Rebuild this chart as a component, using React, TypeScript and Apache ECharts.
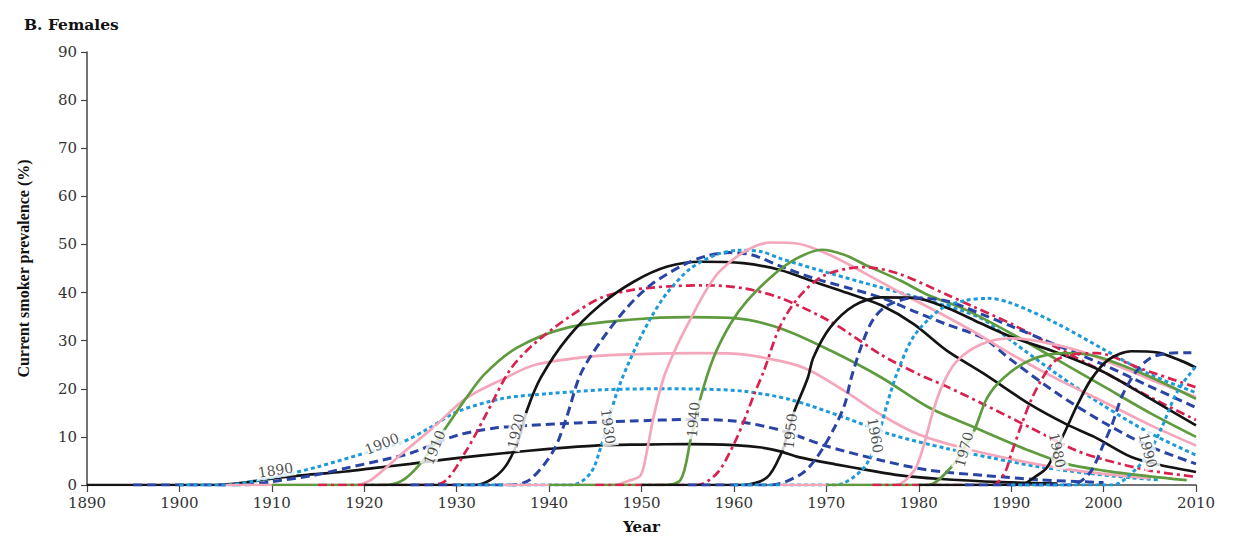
import React, { useEffect, useRef } from 'react';
import * as echarts from 'echarts';

type Pt = [number, number];

// Birth cohorts (every 5 years), points are [calendar year, prevalence %]
const c1890: Pt[] = [[1890,0],[1904,0],[1907,0.5],[1911,1.6],[1915,2.3],[1918,2.8],[1921,3.5],[1925,4.4],[1930,5.6],[1935,6.6],[1940,7.5],[1945,8.2],[1950,8.4],[1955,8.5],[1960,8.3],[1963,7.8],[1965,7],[1967,5.8],[1971,4.3],[1974.5,3.1],[1978,2],[1982,1.3],[1989,0.6],[1995,0.3]];
const c1895: Pt[] = [[1895,0],[1907,0],[1910,0.7],[1914.5,2],[1918,3.5],[1922,5.2],[1925,6.6],[1930,10.3],[1934,11.8],[1938,12.4],[1943,12.9],[1949,13.3],[1955,13.6],[1960,13.3],[1965,11.4],[1970,8.1],[1976,5.1],[1981,3.1],[1987,2],[1993,1.1],[2000,0.5]];
const c1900: Pt[] = [[1900,0],[1905,0],[1908,0.8],[1911,1.9],[1915,3.8],[1920,6.6],[1924,8.8],[1927,11.8],[1930,15.2],[1935,18],[1940,19],[1946,19.8],[1952,20],[1957,19.9],[1961,19.5],[1966,17.8],[1972,14],[1977,10.5],[1983,7.6],[1988,5.6],[1993,3.8],[1998,2.5],[2003,1.5],[2006,1.1]];
const c1905: Pt[] = [[1905,0],[1919,0],[1920.5,0.8],[1922,3],[1924,6.4],[1927.5,12],[1931,18],[1935,22],[1938.5,25],[1945,26.8],[1950,27.2],[1956,27.4],[1960,27.3],[1965,25.8],[1968,24],[1972,19.5],[1976,14.5],[1980,10.5],[1985,7.6],[1990,5.4],[1995,3.6],[2000,2.3],[2005,1.4]];
const c1910: Pt[] = [[1910,0],[1922,0],[1924,0.8],[1926,4.3],[1928.6,11.3],[1931,18],[1933,23],[1936.5,28.5],[1942,32.7],[1949,34.4],[1955,34.9],[1960,34.7],[1965,32.6],[1970.5,27.9],[1976,22.3],[1981,16.2],[1986,12],[1992,7.1],[1996,4.4],[2000,3],[2005,1.8],[2009,1]];
const c1915: Pt[] = [[1915,0],[1926.5,0],[1928.6,0.6],[1931,7],[1933,14],[1935.8,24],[1938.3,29.2],[1942,34.7],[1945.6,38.9],[1949.2,40.6],[1953,41.3],[1957,41.5],[1961,40.9],[1965,38.9],[1970.4,34],[1976,27],[1980,23],[1983,20.5],[1987,16.8],[1992,12],[1997,7.2],[2000,5.3],[2005,3],[2010,1.7]];
const c1920: Pt[] = [[1920,0],[1932,0],[1934,1.5],[1935.5,4.5],[1936.8,10],[1937.6,15.5],[1939.1,22.3],[1942,30.6],[1945.6,37.5],[1949.2,42.3],[1952.8,45.4],[1956.4,46.4],[1961,46.1],[1965,44.7],[1968.6,42.3],[1972.3,39.9],[1976,37.3],[1979.5,33.4],[1983,28],[1987,23.2],[1992,16.8],[1996,12.6],[1999,10],[2003,5.8],[2006,4.2],[2010,2.7]];
const c1925: Pt[] = [[1925,0],[1936,0],[1938,1.2],[1940.5,7.2],[1941.9,14.1],[1943.4,23],[1945.6,29.9],[1948.4,36.8],[1951,41.6],[1954.6,45.8],[1957,47.6],[1959.5,48.3],[1962,47.8],[1965,45.5],[1968.6,43],[1972.3,41],[1976,38.9],[1979.5,36.1],[1983,33.4],[1987,30.5],[1990,26],[1995,19],[2000,13],[2005,8],[2010,4.4]];
const c1930: Pt[] = [[1930,0],[1942.5,0],[1944.5,2.5],[1945.6,7.9],[1947.4,19.6],[1949.2,27.9],[1951,34.7],[1952.8,40],[1955.3,45],[1958,47.8],[1960.5,48.8],[1963,48.5],[1965,47.1],[1970.4,44],[1976,41],[1981.3,38.2],[1986.7,34.7],[1990,30],[1995,23],[2000,16.5],[2005,10.8],[2010,6.2]];
const c1935: Pt[] = [[1935,0],[1947,0],[1948.5,0.8],[1949.9,2],[1950.6,7.2],[1951.3,14.1],[1952.4,22.3],[1953.9,29.2],[1955.3,34.5],[1957,40.5],[1958.5,44.5],[1961.4,48.8],[1964,50.4],[1966.8,50.2],[1970.4,47.8],[1974,44.2],[1978,40],[1982,36],[1986,31.8],[1990,27.2],[1995,22],[2000,17.3],[2005,12.5],[2010,8.2]];
const c1940: Pt[] = [[1940,0],[1952,0],[1954.2,1],[1955.3,9.3],[1956.4,18.2],[1957.8,26.5],[1959.6,33.4],[1961.4,38.2],[1964.3,43.7],[1966.8,47.1],[1969.5,48.9],[1972,47.8],[1974.5,45.5],[1978,42.5],[1981,39.5],[1985,36.5],[1990,31.5],[1995,26],[2000,20.5],[2005,15],[2010,10]];
const c1945: Pt[] = [[1945,0],[1956,0],[1958.2,2.5],[1960,8.5],[1961.1,13.4],[1962.2,18.9],[1963.2,23.5],[1965,33],[1967,39],[1969.7,43.5],[1974,45.3],[1977.7,44],[1983,39.6],[1986,37],[1990,33.5],[1995,28.5],[2000,23.5],[2005,18.3],[2010,13.5]];
const c1950: Pt[] = [[1950,0],[1961,0],[1963.6,1.6],[1965.1,6.5],[1965.8,10.6],[1966.5,15.1],[1968,22.3],[1968.6,26.5],[1970.4,32.7],[1973,37.3],[1975.9,39],[1979.5,38.9],[1983.1,36.8],[1986.7,33.6],[1990,30.8],[1995,27.5],[2000,23.5],[2005,18],[2010,12.4]];
const c1955: Pt[] = [[1955,0],[1964,0],[1967.3,2.3],[1969,5.8],[1970.9,12],[1972,16.8],[1972.7,22.3],[1974,30],[1975.1,34.5],[1976.6,37.3],[1979.5,38.9],[1983.1,38.2],[1986.7,35.6],[1990,33],[1995,29],[2000,25],[2005,20.5],[2010,16.1]];
const c1960: Pt[] = [[1960,0],[1971,0],[1973.8,3],[1975.2,7.5],[1975.9,12],[1976.6,17],[1977.7,23.5],[1979.5,31],[1982.4,36.6],[1984.9,38.3],[1987.5,38.8],[1990,37.8],[1995,33.5],[2000,28.2],[2005,23],[2010,19.2]];
const c1965: Pt[] = [[1965,0],[1977.5,0],[1979.5,3],[1980.5,8],[1981.5,15],[1982.5,20.5],[1984,25.5],[1986.7,29.2],[1990,30.5],[1994,29.5],[1997.5,27.8],[2000,26],[2005,22],[2010,18.3]];
const c1970: Pt[] = [[1970,0],[1981,0],[1983.5,3.7],[1985,8],[1986,11.3],[1987.4,18.1],[1989.2,22.3],[1992.1,26],[1995.7,27.4],[1999.3,26.7],[2005,22.5],[2010,17.9]];
const c1975: Pt[] = [[1975,0],[1988,0],[1989.3,2.5],[1990,6.4],[1991,11.9],[1992.1,17.4],[1993.2,21.6],[1994.7,25.7],[1996.5,27.1],[1999.3,27.4],[2004,24.2],[2010,20.3]];
const c1980: Pt[] = [[1980,0],[1991,0],[1992.5,1.6],[1993.9,3.7],[1995.7,10.6],[1997.2,16.8],[1998.6,21.8],[2000.5,26],[2003,27.8],[2005.9,27.5],[2008.4,25.8],[2010,24.4]];
const c1985: Pt[] = [[1985,0],[1996.5,0],[1998.5,2.5],[2000,8.5],[2001,13],[2002,18.5],[2003.5,23.5],[2005,26.3],[2007,27.4],[2009.5,27.5]];
const c1990: Pt[] = [[1990,0],[2001,0],[2003.4,3.1],[2005,7],[2006.3,12],[2008,19.5],[2010,24.7]];

const cohorts: Pt[][] = [c1890,c1895,c1900,c1905,c1910,c1915,c1920,c1925,c1930,c1935,c1940,c1945,c1950,c1955,c1960,c1965,c1970,c1975,c1980,c1985,c1990];
const cohortNames: string[] = ['1890','1895','1900','1905','1910','1915','1920','1925','1930','1935','1940','1945','1950','1955','1960','1965','1970','1975','1980','1985','1990'];

// In-line cohort labels
const labelTexts: string[] = ['1890','1900','1910','1920','1930','1940','1950','1960','1970','1980','1990'];
const labelYears: number[] = [1910.4,1921.9,1927.6,1936.4,1946.4,1955.6,1966.1,1975.3,1984.9,1995.0,2004.8];
const labelValues: number[] = [3.1,8.6,7.8,11.2,12.2,13.6,11.2,10.3,7.4,7.2,7.2];
const labelAngles: number[] = [9,22,68,78,-82,85,84,-80,75,-78,-75];

const styleCycle = [
  { color: '#141414', width: 2.7, type: 'solid' as any },
  { color: '#2a44a6', width: 3, type: [9, 5] as any },
  { color: '#1f9ad8', width: 3, type: [4, 3] as any },
  { color: '#f4a6ba', width: 2.7, type: 'solid' as any },
  { color: '#5e9b3e', width: 2.7, type: 'solid' as any },
  { color: '#d8214e', width: 2.7, type: [9, 4, 3, 4] as any },
];

const SERIF = 'DejaVu Serif';

export default function App() {
  const ref = useRef<HTMLDivElement>(null);
  useEffect(() => {
    document.body.style.margin = '0';
    if (!ref.current) return;
    const chart = echarts.init(ref.current, undefined, { renderer: 'svg' });
    const lineSeries = cohorts.map((data, i) => ({
      type: 'line',
      name: cohortNames[i],
      data,
      showSymbol: false,
      smooth: 0.3,
      lineStyle: styleCycle[i % 6],
      z: 2,
      silent: true,
    }));
    const labelSeries = {
      type: 'scatter',
      symbol: 'circle',
      symbolSize: 0.5,
      itemStyle: { color: 'rgba(255,255,255,0)' },
      z: 20,
      silent: true,
      labelLayout: { hideOverlap: false },
      data: labelTexts.map((t, i) => ({
        value: [labelYears[i], labelValues[i]],
        label: {
          show: true,
          position: 'inside',
          formatter: t,
          rotate: labelAngles[i],
          backgroundColor: '#ffffff',
          padding: [1, 2],
          fontFamily: SERIF,
          fontSize: 14,
          color: '#222',
        },
      })),
    };
    chart.setOption({
      animation: false,
      backgroundColor: '#fff',
      title: {
        text: 'B. Females',
        left: 19,
        top: 11,
        textStyle: { fontFamily: SERIF, fontWeight: 'bold', fontSize: 15.5, color: '#111' },
      },
      grid: { left: 87, right: 39, top: 52, bottom: 51 },
      xAxis: {
        type: 'value',
        min: 1890,
        max: 2010,
        interval: 10,
        name: 'Year',
        nameLocation: 'middle',
        nameGap: 34,
        nameTextStyle: { fontFamily: SERIF, fontWeight: 'bold', fontSize: 15, color: '#111' },
        axisLine: { show: true, lineStyle: { color: '#444', width: 1.5 } },
        axisTick: { show: true, length: 7, lineStyle: { color: '#444', width: 1.2 } },
        axisLabel: { formatter: (v: number) => String(v), fontFamily: SERIF, fontSize: 15, color: '#333', margin: 10 },
        splitLine: { show: false },
      },
      yAxis: {
        type: 'value',
        min: 0,
        max: 90,
        interval: 10,
        name: 'Current smoker prevalence (%)',
        nameLocation: 'middle',
        nameGap: 56,
        nameTextStyle: { fontFamily: 'Liberation Serif', fontWeight: 'bold', fontSize: 16, color: '#111' },
        axisLine: { show: true, lineStyle: { color: '#444', width: 1.5 } },
        axisTick: { show: true, length: 6, lineStyle: { color: '#444', width: 1.2 } },
        axisLabel: { fontFamily: SERIF, fontSize: 15, color: '#333', margin: 10 },
        splitLine: { show: false },
      },
      series: [...lineSeries, labelSeries],
    });
    return () => chart.dispose();
  }, []);
  return <div ref={ref} style={{ width: 1235, height: 539 }} />;
}
